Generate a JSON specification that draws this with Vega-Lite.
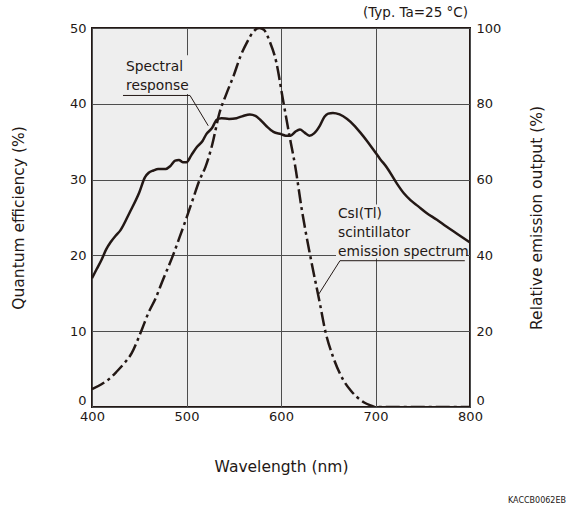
{
  "$schema": "https://vega.github.io/schema/vega-lite/v6.json",
  "width": 378,
  "height": 379,
  "autosize": {"type": "none"},
  "padding": {"left": 92, "top": 28, "right": 101, "bottom": 100},
  "background": "#ffffff",
  "config": {
    "view": {"stroke": "#231815", "strokeWidth": 2, "fill": "#eeeeee"},
    "axis": {
      "labelFont": "DejaVu Sans", "labelFontSize": 13, "labelColor": "#231815",
      "titleFont": "DejaVu Sans", "titleFontSize": 15.5, "titleFontWeight": "normal", "titleColor": "#231815",
      "domain": false, "ticks": false, "tickSize": 0, "labelFlush": false,
      "gridColor": "#4d4d4d", "gridWidth": 1, "gridOpacity": 1
    },
    "title": {"font": "DejaVu Sans", "fontSize": 8, "fontWeight": "normal", "color": "#231815"}
  },
  "title": {"text": "KACCB0062EB", "orient": "bottom", "anchor": "end", "frame": "group", "dx": 96, "offset": 22},
  "datasets": {
    "qe": [
      {"wl": 400, "qe": 17.0}, {"wl": 405, "qe": 18.2}, {"wl": 410, "qe": 19.4}, {"wl": 415, "qe": 20.8},
      {"wl": 420, "qe": 21.8}, {"wl": 425, "qe": 22.6}, {"wl": 430, "qe": 23.3}, {"wl": 440, "qe": 25.7},
      {"wl": 450, "qe": 28.3}, {"wl": 456, "qe": 30.3}, {"wl": 460, "qe": 30.9}, {"wl": 465, "qe": 31.2},
      {"wl": 470, "qe": 31.4}, {"wl": 478, "qe": 31.4}, {"wl": 483, "qe": 31.8}, {"wl": 488, "qe": 32.5},
      {"wl": 492, "qe": 32.6}, {"wl": 496, "qe": 32.3}, {"wl": 500, "qe": 32.3}, {"wl": 505, "qe": 33.2},
      {"wl": 511, "qe": 34.3}, {"wl": 517, "qe": 35.1}, {"wl": 521, "qe": 36.0}, {"wl": 527, "qe": 36.8},
      {"wl": 532, "qe": 37.9}, {"wl": 537, "qe": 38.1}, {"wl": 545, "qe": 38.0}, {"wl": 553, "qe": 38.1},
      {"wl": 560, "qe": 38.4}, {"wl": 567, "qe": 38.6}, {"wl": 573, "qe": 38.4}, {"wl": 578, "qe": 37.9},
      {"wl": 585, "qe": 37.0}, {"wl": 592, "qe": 36.3}, {"wl": 600, "qe": 36.0}, {"wl": 605, "qe": 35.8},
      {"wl": 610, "qe": 35.8}, {"wl": 615, "qe": 36.3}, {"wl": 620, "qe": 36.6}, {"wl": 625, "qe": 36.2},
      {"wl": 630, "qe": 35.8}, {"wl": 635, "qe": 36.1}, {"wl": 641, "qe": 37.1}, {"wl": 646, "qe": 38.3},
      {"wl": 650, "qe": 38.7}, {"wl": 655, "qe": 38.8}, {"wl": 662, "qe": 38.6}, {"wl": 670, "qe": 38.0},
      {"wl": 677, "qe": 37.2}, {"wl": 684, "qe": 36.2}, {"wl": 691, "qe": 35.1}, {"wl": 698, "qe": 33.9},
      {"wl": 705, "qe": 32.7}, {"wl": 712, "qe": 31.6}, {"wl": 722, "qe": 29.6}, {"wl": 730, "qe": 28.2},
      {"wl": 737, "qe": 27.3}, {"wl": 745, "qe": 26.5}, {"wl": 754, "qe": 25.6}, {"wl": 765, "qe": 24.7},
      {"wl": 775, "qe": 23.8}, {"wl": 787, "qe": 22.8}, {"wl": 800, "qe": 21.7}
    ],
    "em": [
      {"wl": 400, "em": 4.7}, {"wl": 410, "em": 6.0}, {"wl": 420, "em": 7.8}, {"wl": 426, "em": 9.3},
      {"wl": 435, "em": 11.8}, {"wl": 442, "em": 14.2}, {"wl": 448, "em": 17.5}, {"wl": 453, "em": 20.6},
      {"wl": 460, "em": 25.0}, {"wl": 467, "em": 28.5}, {"wl": 475, "em": 33.5}, {"wl": 486, "em": 40.2},
      {"wl": 493, "em": 45.0}, {"wl": 500, "em": 49.9}, {"wl": 507, "em": 55.0}, {"wl": 514, "em": 60.0},
      {"wl": 520, "em": 63.3}, {"wl": 527, "em": 69.0}, {"wl": 535, "em": 77.7}, {"wl": 542, "em": 82.5},
      {"wl": 550, "em": 87.5}, {"wl": 557, "em": 92.5}, {"wl": 564, "em": 96.2}, {"wl": 570, "em": 98.8},
      {"wl": 577, "em": 100.0}, {"wl": 582, "em": 99.5}, {"wl": 588, "em": 96.5}, {"wl": 595, "em": 91.0},
      {"wl": 602, "em": 81.2}, {"wl": 609, "em": 71.5}, {"wl": 615, "em": 63.6}, {"wl": 622, "em": 52.1},
      {"wl": 631, "em": 39.8}, {"wl": 641, "em": 27.5}, {"wl": 647, "em": 19.9}, {"wl": 655, "em": 13.3},
      {"wl": 666, "em": 7.1}, {"wl": 674, "em": 4.3}, {"wl": 680, "em": 2.7}, {"wl": 688, "em": 1.2},
      {"wl": 694, "em": 0.5}, {"wl": 700, "em": 0.0}, {"wl": 800, "em": 0.0}
    ],
    "boxes": [
      {"x1": 431.7, "x2": 506.9, "y1": 41.3, "y2": 46.4},
      {"x1": 658.2, "x2": 795.8, "y1": 19.6, "y2": 26.7}
    ],
    "labels": [
      {"wl": 436, "v": 44.9, "t": "Spectral"},
      {"wl": 436, "v": 42.3, "t": "response"},
      {"wl": 660.3, "v": 25.4, "t": "CsI(Tl)"},
      {"wl": 660.3, "v": 22.9, "t": "scintillator"},
      {"wl": 660.3, "v": 20.5, "t": "emission spectrum"}
    ],
    "leaders": [
      {"x1": 432.8, "x2": 503.7, "y1": 41.1, "y2": 41.1},
      {"x1": 503.7, "x2": 523.0, "y1": 41.1, "y2": 37.1},
      {"x1": 662.4, "x2": 794.5, "y1": 19.3, "y2": 19.3},
      {"x1": 662.4, "x2": 639.5, "y1": 19.3, "y2": 14.8}
    ],
    "note": [
      {"wl": 797.9, "v": 52.0, "t": "(Typ. Ta=25 °C)"}
    ]
  },
  "layer": [
    {
      "data": {"name": "boxes"},
      "mark": {"type": "rect", "fill": "#eeeeee", "stroke": null},
      "encoding": {
        "x": {"field": "x1", "type": "quantitative", "scale": {"domain": [400, 800]}},
        "x2": {"field": "x2"},
        "y": {"field": "y1", "type": "quantitative", "scale": {"domain": [0, 50]}, "axis": null},
        "y2": {"field": "y2"}
      }
    },
    {
      "data": {"name": "qe"},
      "mark": {"type": "line", "color": "#231815", "strokeWidth": 2.5, "interpolate": "monotone", "clip": true},
      "encoding": {
        "x": {
          "field": "wl", "type": "quantitative",
          "scale": {"domain": [400, 800], "nice": false},
          "axis": {"values": [400, 500, 600, 700, 800], "title": "Wavelength (nm)", "labelPadding": 3, "titlePadding": 36, "grid": true}
        },
        "y": {
          "field": "qe", "type": "quantitative",
          "scale": {"domain": [0, 50], "nice": false},
          "axis": {
            "values": [0, 10, 20, 30, 40, 50], "title": "Quantum efficiency (%)", "labelPadding": 6, "titlePadding": 43, "grid": true,
            "labelBaseline": {"condition": {"test": "datum.value === 0", "value": "bottom"}, "value": "middle"}
          }
        }
      }
    },
    {
      "data": {"name": "em"},
      "mark": {"type": "line", "color": "#231815", "strokeWidth": 2.5, "interpolate": "monotone", "strokeDash": [14, 4, 3, 4], "clip": true},
      "encoding": {
        "x": {"field": "wl", "type": "quantitative"},
        "y": {
          "field": "em", "type": "quantitative",
          "scale": {"domain": [0, 100], "nice": false},
          "axis": {
            "orient": "right", "values": [0, 20, 40, 60, 80, 100], "title": "Relative emission output (%)", "labelPadding": 6, "titlePadding": 44, "grid": false, "titleAngle": 270,
            "labelBaseline": {"condition": {"test": "datum.value === 0", "value": "bottom"}, "value": "middle"}
          }
        }
      }
    },
    {
      "data": {"name": "leaders"},
      "mark": {"type": "rule", "color": "#231815", "strokeWidth": 1},
      "encoding": {
        "x": {"field": "x1", "type": "quantitative"},
        "x2": {"field": "x2"},
        "y": {"field": "y1", "type": "quantitative", "scale": {"domain": [0, 50]}, "axis": null},
        "y2": {"field": "y2"}
      }
    },
    {
      "data": {"name": "labels"},
      "mark": {"type": "text", "font": "DejaVu Sans", "fontSize": 13.8, "color": "#231815", "align": "left", "baseline": "middle"},
      "encoding": {
        "x": {"field": "wl", "type": "quantitative"},
        "y": {"field": "v", "type": "quantitative", "scale": {"domain": [0, 50]}, "axis": null},
        "text": {"field": "t"}
      }
    },
    {
      "data": {"name": "note"},
      "mark": {"type": "text", "font": "DejaVu Sans", "fontSize": 13.5, "color": "#231815", "align": "right", "baseline": "middle"},
      "encoding": {
        "x": {"field": "wl", "type": "quantitative"},
        "y": {"field": "v", "type": "quantitative", "scale": {"domain": [0, 50]}, "axis": null},
        "text": {"field": "t"}
      }
    }
  ],
  "resolve": {"scale": {"y": "independent"}}
}
